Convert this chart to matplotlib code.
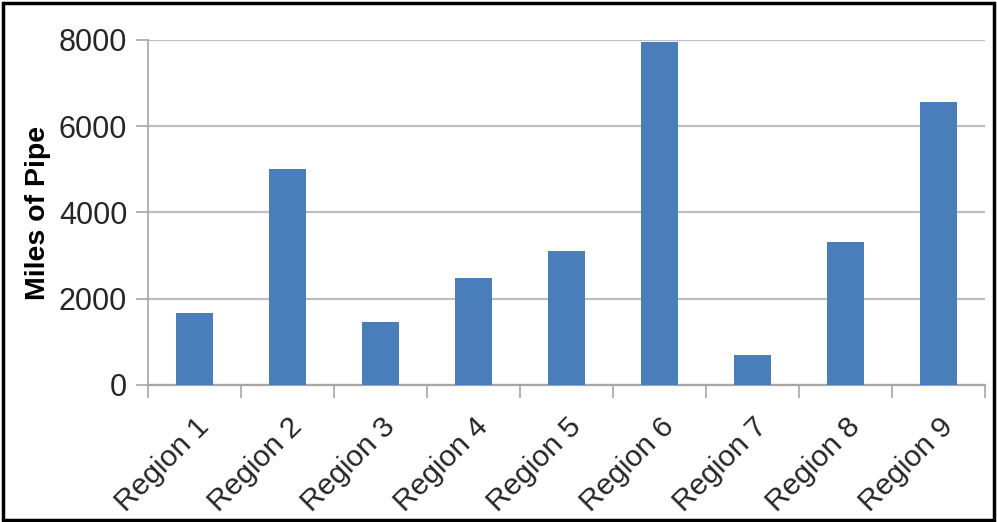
import matplotlib
matplotlib.use("Agg")
import matplotlib.pyplot as plt
from matplotlib.patches import Rectangle
import numpy as np

categories = ["Region 1", "Region 2", "Region 3", "Region 4", "Region 5",
              "Region 6", "Region 7", "Region 8", "Region 9"]
miles = [1660, 5000, 1450, 2490, 3100, 7960, 700, 3320, 6550]
yticks = [0, 2000, 4000, 6000, 8000]

plt.rcParams['font.family'] = ['Liberation Sans', 'DejaVu Sans']

fig = plt.figure(figsize=(9.97, 5.22), dpi=100)
ax = fig.add_axes([0.1485, 0.2625, 0.8395, 0.661])

x = np.arange(len(categories))
ax.bar(x, miles, width=0.4, color="#4A7EBB", zorder=3)

ax.set_xlim(-0.5, len(categories) - 0.5)
ax.set_ylim(0, 8000)
ax.set_yticks(yticks)
ax.set_yticklabels([str(v) for v in yticks])
ax.yaxis.grid(True, color="#BEBEBE", linewidth=1.6, zorder=0)
ax.set_axisbelow(True)

ax.set_xticks(x)
ax.set_xticklabels(categories, rotation=45, ha="right", rotation_mode="anchor")
ax.set_xticks(np.arange(-0.5, len(categories)), minor=True)
ax.tick_params(axis="x", which="major", length=0, pad=20, labelsize=21.5, labelcolor="#262626")
ax.tick_params(axis="x", which="minor", length=9, width=1.2, color="#A6A6A6", direction="out")
ax.tick_params(axis="y", which="major", length=9, width=1.2, color="#A6A6A6",
               labelsize=22, labelcolor="#262626", pad=6)

for s in ["top", "right"]:
    ax.spines[s].set_visible(False)
ax.spines["left"].set_color("#A6A6A6")
ax.spines["left"].set_linewidth(1.2)
ax.spines["bottom"].set_color("#A6A6A6")
ax.spines["bottom"].set_linewidth(1.6)

ax.set_ylabel("Miles of Pipe", fontsize=20.5, fontweight="bold", color="black", labelpad=6)

fig.patches.append(Rectangle((0.003, 0.004), 0.994, 0.991, transform=fig.transFigure,
                             fill=False, edgecolor="black", linewidth=2.5))

fig.savefig("out.png", dpi=100)
